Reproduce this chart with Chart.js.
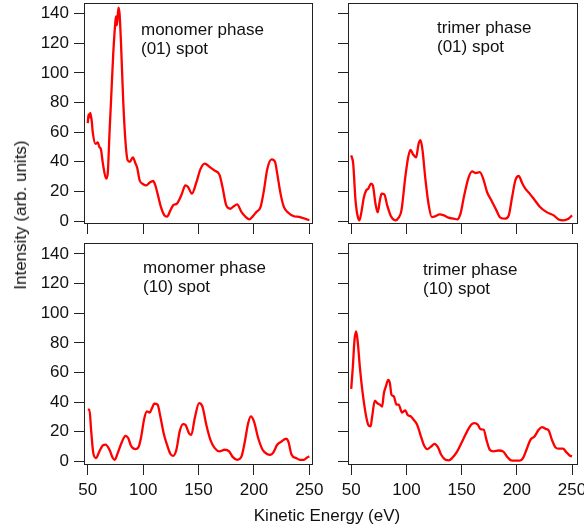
<!DOCTYPE html>
<html>
<head>
<meta charset="utf-8">
<script src="https://cdn.jsdelivr.net/npm/chart.js@4.4.1/dist/chart.umd.min.js"></script>
<style>
  body { margin: 0; background: #fff; font-family: "Liberation Sans", Arial, sans-serif; }
  #wrap { position: relative; width: 584px; height: 532px; overflow: hidden; }
  canvas { position: absolute; }
  .note { position: absolute; font-size: 17px; line-height: 18.5px; color: #111; white-space: nowrap; }
  .xtitle { position: absolute; left: 0; width: 654px; top: 506px; text-align: center; font-size: 17px; color: #111; }
  .ytitle { position: absolute; left: 21px; top: 215px; font-size: 17px; color: #111; white-space: nowrap;
            transform: translate(-50%, -50%) rotate(-90deg); }
</style>
</head>
<body>
<div id="wrap">
  <canvas id="c1" width="320" height="240" style="left:0;top:0"></canvas>
  <canvas id="c2" width="264" height="240" style="left:320px;top:0"></canvas>
  <canvas id="c3" width="334" height="292" style="left:0;top:240px"></canvas>
  <canvas id="c4" width="264" height="292" style="left:320px;top:240px"></canvas>
  <div class="note" style="left:141px;top:21px">monomer phase<br>(01) spot</div>
  <div class="note" style="left:437px;top:19px">trimer phase<br>(01) spot</div>
  <div class="note" style="left:143px;top:259px">monomer phase<br>(10) spot</div>
  <div class="note" style="left:423px;top:261px">trimer phase<br>(10) spot</div>
  <div class="xtitle">Kinetic Energy (eV)</div>
  <div class="ytitle">Intensity (arb. units)</div>
</div>
<script>
// tick labels
const xTicks = [50, 100, 150, 200, 250];
const yTicks = [0, 20, 40, 60, 80, 100, 120, 140];

// monomer phase, (01) spot
const mono01E = [50, 50.7, 51.5, 52.3, 53.5, 54.5, 57, 59, 60.5, 62, 63.6, 66.6, 68, 69.6, 71, 73, 75, 75.6, 76.3, 77.7, 78.7, 80, 82, 84, 86, 88, 90.7, 93, 94.6, 96.8, 99.8, 102.8, 106, 109, 111, 113, 116, 119, 121.5, 124.5, 127, 130.5, 133, 135, 138, 140.5, 144, 148, 151.7, 155.6, 160, 164.6, 169, 171.6, 175, 178.8, 181.8, 184.8, 188.8, 192.7, 195.7, 198.7, 202, 206, 209, 212, 216, 219, 221, 224, 227, 231, 235.5, 241.5, 246, 250];
const mono01I = [66, 72, 70, 73, 68, 60, 52, 53, 50, 48, 39, 28.6, 32, 59, 81, 113, 135, 138, 132, 144, 140, 120, 81, 54, 41, 40, 43, 39, 36, 27.5, 25, 24, 26, 27, 24, 18.5, 9.5, 4, 3, 7, 10.6, 11.7, 15, 18.5, 24, 23, 18.5, 26, 35, 38.7, 36.5, 34, 31, 23, 10.6, 8.3, 10, 11.3, 6, 2.7, 1.1, 3, 6, 9.5, 20.7, 35, 41.6, 40, 32, 18.5, 9.5, 5.6, 3.4, 2.7, 1.6, 0.5];

// trimer phase, (01) spot
const tri01E = [50, 51.8, 53.9, 56, 57.5, 59, 61.5, 63.6, 65.4, 68, 69.6, 72, 74, 76, 77.5, 80, 82.6, 86, 90, 93, 95.5, 99, 101.6, 103.7, 106, 108.8, 111, 112.8, 114.6, 117, 120, 123, 126, 130, 134, 138, 143, 146, 149, 152, 156, 159.5, 162.5, 166.5, 170, 173, 176.9, 181.5, 185, 189.7, 192.7, 195.7, 198.7, 201.7, 204.8, 207.7, 211.6, 215.9, 221, 227, 233.4, 237.8, 242, 246.8, 250];
const tri01I = [44.3, 38.7, 14, 2.7, 0.5, 5, 16, 20.7, 21.8, 25.2, 24, 11.7, 5.9, 14, 18.5, 18, 10.6, 3.2, 0.5, 2.3, 7.2, 29.7, 43, 48, 45, 43, 52, 54.5, 47.7, 29.7, 11.7, 2.7, 3.2, 4.5, 3.8, 2.3, 1.6, 1.1, 5, 16, 28.6, 33.5, 32.4, 33, 27.5, 19.6, 14, 7.2, 2.3, 1.6, 3.8, 16, 27.5, 30.4, 25.7, 21.8, 18.5, 14.4, 9.5, 6, 3.8, 1.1, 0.5, 1.6, 3.8];

// monomer phase, (10) spot
const mono10E = [50, 51.5, 53, 55, 57.5, 60.5, 63.6, 66, 69.6, 72.6, 74.4, 77, 81, 84, 86.5, 89, 93, 96, 98, 101, 103.4, 106, 108, 110, 113, 115.5, 118.5, 121.5, 124.5, 127, 130, 133, 136, 138, 141.4, 143.5, 146.5, 150.5, 153.5, 157, 160.7, 164.6, 169, 173.7, 177.6, 181, 185, 188.8, 191.8, 194.8, 197.2, 200, 203.8, 207.8, 211.4, 215, 217.4, 221, 225, 229, 231, 234, 238, 241.5, 245, 248, 250];
const mono10I = [35, 35, 21.4, 5.6, 2.3, 6.8, 10.8, 11.3, 7.9, 2.3, 1.1, 5.6, 13.5, 17.3, 15.8, 10.6, 8.3, 10, 15.8, 29, 33.8, 33, 36, 39, 38.3, 30.4, 19, 11.3, 5.2, 3.8, 7.9, 20.3, 25.2, 24.8, 19, 18, 29, 39.4, 37, 24.8, 14.6, 9, 6.8, 7.9, 6.8, 2.9, 1.1, 3.4, 13.5, 25.9, 30.4, 27, 15.8, 7.9, 5.2, 4.5, 6, 11.3, 13.5, 15.3, 13.5, 4.5, 2.3, 1.1, 1.1, 2.7, 3.4];

// trimer phase, (10) spot
const tri10E = [50, 51.5, 53, 54.5, 56, 57.8, 60, 63, 65.4, 67.5, 69, 71.4, 73.5, 76, 78, 79.6, 81.4, 83.5, 85, 86.5, 88.6, 91, 93, 96, 99, 101, 104, 106.7, 109.7, 112.7, 115.7, 118.8, 122.4, 125.5, 128.5, 131.5, 135.4, 138.4, 141.4, 146, 150.5, 155, 158.6, 161.7, 164.7, 167, 170, 172.5, 175.5, 179, 183.6, 187.5, 191, 194.8, 198.7, 202.6, 205.6, 208.7, 212.3, 216, 219.8, 222.9, 226, 228.8, 231.8, 234.8, 237.8, 241.8, 244.8, 247.8, 250];
const tri10I = [49, 64, 82, 87.8, 80, 64, 48.4, 32.6, 24.8, 23.6, 30.4, 41, 39.4, 38.3, 37, 46, 50.6, 55, 53, 45, 43.9, 38.3, 38.3, 33, 34.5, 31.5, 30.4, 28, 24.8, 18, 11.3, 8.3, 10.1, 11.9, 9.7, 4.5, 1.1, 0.7, 2.3, 6.8, 13.5, 20.3, 24.8, 25.9, 24.8, 21.8, 21.4, 14.6, 7.9, 6.8, 7.4, 6.8, 3.4, 0.7, 0.5, 0.5, 2.3, 7.9, 14.6, 16.9, 21.4, 23.2, 22, 21, 14.6, 9.7, 8.6, 8.6, 6.3, 4, 3.4];

const tickFont = { family: '"Liberation Sans", Arial, sans-serif', size: 17 };

// draws the full box around the plot area
const framePlugin = {
    id: 'frame',
    afterDraw(chart) {
        const a = chart.chartArea;
        const ctx = chart.ctx;
        ctx.save();
        ctx.strokeStyle = '#222';
        ctx.lineWidth = 1;
        ctx.strokeRect(Math.round(a.left) + 0.5, Math.round(a.top) + 0.5,
            Math.round(a.right - a.left) - 1, Math.round(a.bottom - a.top) - 1);
        ctx.restore();
    }
};

// no automatic room for overhanging tick labels
function noPad(s) {
    s.paddingLeft = 0; s.paddingRight = 0; s.paddingTop = 0; s.paddingBottom = 0;
}

function makePanel(id, energies, values, p) {
    const pts = energies.map((e, i) => ({ x: e, y: values[i] }));
    new Chart(document.getElementById(id), {
        type: 'line',
        data: {
            datasets: [{
                data: pts,
                borderColor: '#ff0000',
                borderWidth: 2.3,
                pointRadius: 0,
                cubicInterpolationMode: 'monotone',
                fill: false
            }]
        },
        options: {
            responsive: false,
            animation: false,
            events: [],
            layout: { padding: { top: p.top, right: p.right, left: 0, bottom: 0 } },
            plugins: { legend: { display: false }, tooltip: { enabled: false } },
            scales: {
                x: {
                    type: 'linear',
                    min: p.xmin, max: p.xmax,
                    afterBuildTicks: s => { s.ticks = xTicks.map(v => ({ value: v })); },
                    afterFit: s => { s.height = p.xh; noPad(s); },
                    border: { display: false },
                    grid: { drawOnChartArea: false, tickLength: 10, color: '#222' },
                    ticks: { display: p.xlab, font: tickFont, color: '#111', padding: 5, maxRotation: 0 }
                },
                y: {
                    min: p.ymin, max: p.ymax,
                    afterBuildTicks: s => { s.ticks = yTicks.map(v => ({ value: v })); },
                    afterFit: s => { s.width = p.yw; noPad(s); },
                    border: { display: false },
                    grid: { drawOnChartArea: false, tickLength: 10, color: '#222' },
                    ticks: { display: p.ylab, font: tickFont, color: '#111', padding: 5 }
                }
            }
        },
        plugins: [framePlugin]
    });
}

makePanel('c1', mono01E, mono01I, { top: 3, right: 7, xh: 16, yw: 84, xmin: 46.6, xmax: 253.3, ymin: -2, ymax: 147.1, xlab: false, ylab: true });
makePanel('c2', tri01E, tri01I, { top: 3, right: 6, xh: 16, yw: 28, xmin: 47.1, xmax: 255.4, ymin: -2, ymax: 147.1, xlab: false, ylab: false });
makePanel('c3', mono10E, mono10I, { top: 3, right: 21, xh: 67, yw: 84, xmin: 46.6, xmax: 253.3, ymin: -2.4, ymax: 147.4, xlab: true, ylab: true });
makePanel('c4', tri10E, tri10I, { top: 3, right: 6, xh: 67, yw: 28, xmin: 47.1, xmax: 255.4, ymin: -2.4, ymax: 147.4, xlab: true, ylab: false });
</script>
</body>
</html>
